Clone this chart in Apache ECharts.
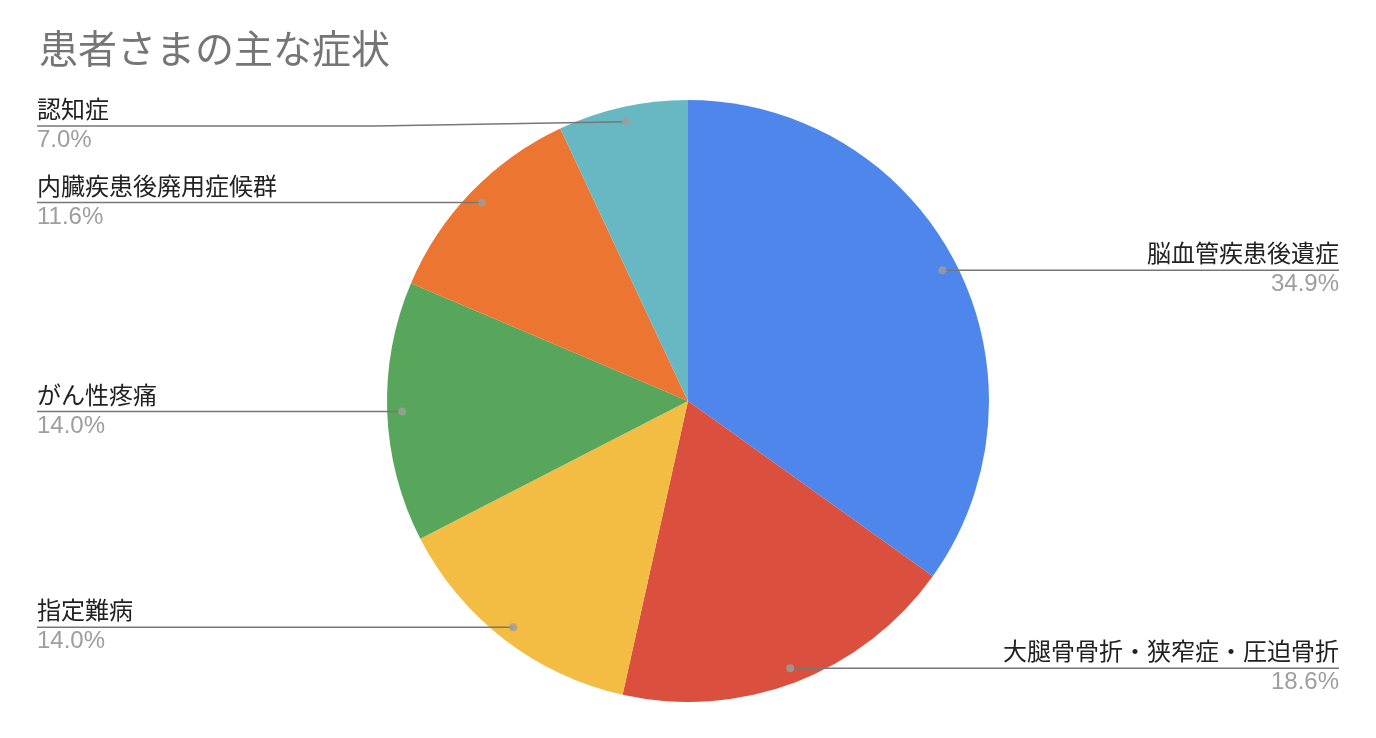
<!DOCTYPE html>
<html>
<head>
<meta charset="utf-8">
<script src="https://cdn.jsdelivr.net/npm/echarts@6/dist/echarts.min.js"></script>
<style>
  html, body { margin: 0; padding: 0; background: #fff; }
  #main { width: 1376px; height: 738px; }
</style>
</head>
<body>
<div id="main"></div>
<script>
// 数据 (人数)
const names = [
  '脳血管疾患後遺症',
  '大腿骨骨折・狭窄症・圧迫骨折',
  '指定難病',
  'がん性疼痛',
  '内臓疾患後廃用症候群',
  '認知症'
];
const counts = [15, 8, 6, 6, 5, 3];
const colors = ['#4F86EC', '#DB4F3E', '#F2BD42', '#58A65C', '#EC7532', '#67B8C3'];

const FONT = "'Liberation Sans', 'Noto Sans CJK JP', sans-serif";
const CENTER = [688, 401];
const R = 301;
const DOT_R = 286;
const EDGE = 37;
const MIN_LABEL_Y = 126; // 标签别离标题太近

const total = counts.reduce((a, b) => a + b, 0);
let acc = 0;
const dots = counts.map(v => {
  const mid = acc + v / 2;
  acc += v;
  return [DOT_R, mid];
});

const pieData = names.map((n, i) => ({ name: n, value: counts[i], itemStyle: { color: colors[i] } }));

const chart = echarts.init(document.getElementById('main'));
const W = chart.getWidth();

chart.setOption({
  animation: false,
  backgroundColor: '#fff',
  title: {
    text: '患者さまの主な症状',
    left: 34,
    top: 28,
    textStyle: { fontSize: 39, fontWeight: 'normal', color: '#757575', fontFamily: FONT }
  },
  polar: { center: CENTER, radius: R },
  angleAxis: { type: 'value', min: 0, max: total, startAngle: 90, clockwise: true, show: false },
  radiusAxis: { type: 'value', min: 0, max: R, show: false },
  series: [
    {
      type: 'pie',
      center: CENTER,
      radius: [0, R],
      startAngle: 90,
      silent: true,
      emphasis: { disabled: true },
      label: { show: false },
      labelLine: { show: false },
      itemStyle: { borderWidth: 0 },
      data: pieData
    },
    {
      // 只用来放标签
      type: 'pie',
      center: CENTER,
      radius: [0, DOT_R],
      startAngle: 90,
      silent: true,
      z: 3,
      emphasis: { disabled: true },
      itemStyle: { color: 'transparent', borderWidth: 0 },
      label: {
        show: true,
        position: 'outside',
        alignTo: 'edge',
        edgeDistance: EDGE,
        distanceToLabelLine: 0,
        formatter: p => '{n|' + p.name + '}\n{p|' + (p.value / total * 100).toFixed(1) + '%}',
        rich: {
          n: { fontSize: 24, color: '#222', lineHeight: 29, fontFamily: FONT },
          p: { fontSize: 24, color: '#9e9e9e', lineHeight: 29, fontFamily: FONT }
        }
      },
      labelLine: {
        show: true,
        length: 0,
        length2: 10,
        lineStyle: { color: '#777', width: 1.5 }
      },
      labelLayout: p => {
        const pts = p.labelLinePoints;
        if (!pts) return {};
        const first = pts[0];
        const last = pts[pts.length - 1];
        const left = first[0] < CENTER[0];
        const endX = left ? EDGE : W - EDGE;
        if (last[1] < MIN_LABEL_Y) {
          const bendX = left ? CENTER[0] - R - 12 : CENTER[0] + R + 12;
          return {
            y: MIN_LABEL_Y,
            labelLinePoints: [first.slice(), [bendX, MIN_LABEL_Y], [endX, MIN_LABEL_Y]]
          };
        }
        const newPts = pts.map(q => q.slice());
        newPts[newPts.length - 1] = [endX, last[1]];
        return { labelLinePoints: newPts };
      },
      data: names.map((n, i) => ({ name: n, value: counts[i] }))
    },
    {
      type: 'scatter',
      coordinateSystem: 'polar',
      symbolSize: 8,
      silent: true,
      z: 10,
      itemStyle: { color: '#9e9e9e' },
      data: dots
    }
  ]
});
</script>
</body>
</html>
